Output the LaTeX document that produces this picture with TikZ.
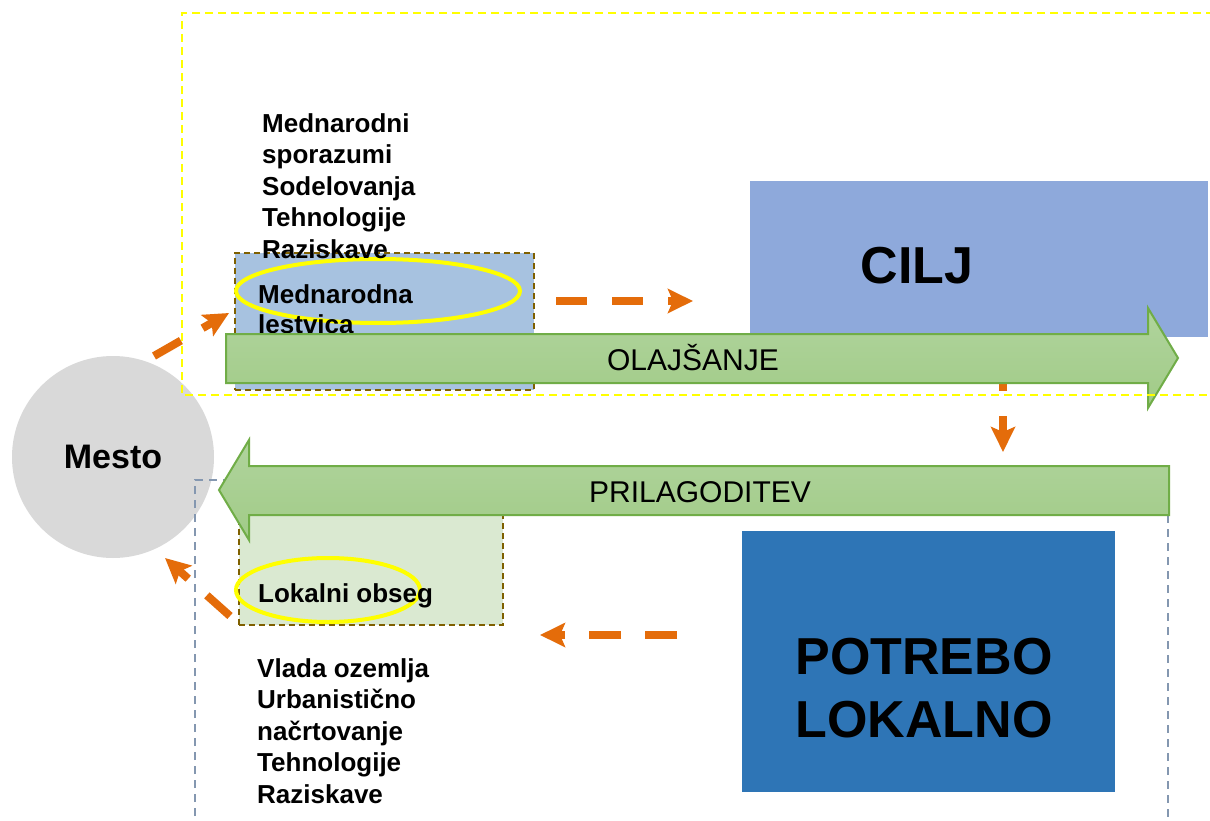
\documentclass[tikz,border=0pt]{standalone}
\usepackage{fontspec}
\setmainfont{Liberation Sans}
\usetikzlibrary{arrows.meta,shapes.geometric}
\definecolor{orng}{HTML}{E46C0A}
\definecolor{ylw}{HTML}{FFFF00}
\definecolor{medfill}{HTML}{A7C2E0}
\definecolor{lokfill}{HTML}{DAE9D1}
\definecolor{ciljfill}{HTML}{8EA9DB}
\definecolor{potfill}{HTML}{2E75B6}
\definecolor{grtop}{HTML}{B0D49D}
\definecolor{grbot}{HTML}{A1CB87}
\definecolor{grline}{HTML}{70AD47}
\definecolor{circfill}{HTML}{D9D9D9}
\definecolor{bluedash}{HTML}{8497B0}
\definecolor{brownish}{HTML}{7F6000}
\tikzset{
  dashbox/.style={draw=brownish, line width=1.5pt, dash pattern=on 6pt off 4pt, inner sep=0pt, anchor=north west},
  ring/.style={draw=ylw, line width=4pt, ellipse, inner sep=0pt},
  listtext/.style={font=\fontsize{26}{31.5}\selectfont\bfseries, align=left, inner sep=0pt, anchor=north west},
  boxtext/.style={font=\fontsize{26}{30}\selectfont\bfseries, align=left, inner sep=0pt, anchor=north west},
  bigtext/.style={font=\fontsize{52}{63}\selectfont\bfseries, align=center, inner sep=0pt},
  arrowtext/.style={font=\fontsize{30}{36}\selectfont, inner sep=0pt, anchor=base},
  bigarrow/.style={draw=grline, line width=2pt, top color=grtop, bottom color=grbot},
  orarrow/.style={draw=orng, line width=8pt, dash pattern=on 31pt off 25pt,
    -{Stealth[length=25pt, width=24pt, inset=5pt]}},
  ydash/.style={draw=ylw, line width=2pt, dash pattern=on 8pt off 5pt},
  bdash/.style={draw=bluedash, line width=1.5pt, dash pattern=on 8pt off 6pt},
}
\begin{document}
\begin{tikzpicture}[x=1pt,y=-1pt]
\useasboundingbox[fill=white] (0,0) rectangle (1210,821);

% city circle
\node[circle, fill=circfill, minimum size=202pt, inner sep=0pt,
      font=\fontsize{34}{40}\selectfont\bfseries] (mesto) at (113,457) {Mesto};

% international box
\node[dashbox, fill=medfill, minimum width=299pt, minimum height=137pt] (medbox) at (234,252) {};
\node[ring, minimum width=284pt, minimum height=64pt] (ring1) at (378,291) {};
\node[boxtext] (medtext) at (258,284.3) {Mednarodna\\lestvica};
\node[listtext] (toplist) at (262,113.3) {Mednarodni\\sporazumi\\Sodelovanja\\Tehnologije\\Raziskave};

% goal box
\node[fill=ciljfill, minimum width=458pt, minimum height=156pt, inner sep=0pt, anchor=north west] (cilj) at (750,181) {};
\node[bigtext] (ciljtext) at (917,265.5) {CILJ};

% vertical orange arrow (under the green arrow)
\coordinate (vstart) at (1003,360);
\coordinate (vend) at (1003,452);
\draw[orarrow] (vstart) -- (vend);

% OLAJSANJE arrow
\draw[bigarrow] (226,334) -- (1148,334) -- (1148,308) -- (1178,358) -- (1148,408) -- (1148,383) -- (226,383) -- cycle;
\node[arrowtext] (olaj) at (693,370) {OLAJŠANJE};

% yellow dashed frame
\draw[ydash] (1214,13) -- (182,13) -- (182,395) -- (1214,395);

% upper orange arrows
\coordinate (a1s) at (154,356);
\coordinate (a1e) at (229,313);
\draw[orarrow] (a1s) -- (a1e);
\coordinate (a2s) at (556,301);
\coordinate (a2e) at (693,301);
\draw[orarrow] (a2s) -- (a2e);

% local box
\node[dashbox, fill=lokfill, minimum width=264pt, minimum height=119pt] (lokbox) at (238,505) {};
\node[ring, minimum width=184pt, minimum height=64pt] (ring2) at (328,590) {};
\node[boxtext, anchor=base west] (loktext) at (258,602) {Lokalni obseg};

% blue dashed frame
\draw[bdash] (195,830) -- (195,480) -- (1168,480) -- (1168,830);

% PRILAGODITEV arrow
\draw[bigarrow] (1169,466) -- (249,466) -- (249,440) -- (219,490) -- (249,540) -- (249,515) -- (1169,515) -- cycle;
\node[arrowtext] (pril) at (700,502) {PRILAGODITEV};

% local need box
\node[fill=potfill, minimum width=373pt, minimum height=261pt, inner sep=0pt, anchor=north west] (potbox) at (742,531) {};
\node[bigtext] (pottext) at (924,688) {POTREBO\\LOKALNO};

% lower list
\node[listtext] (botlist) at (257,658.3) {Vlada ozemlja\\Urbanistično\\načrtovanje\\Tehnologije\\Raziskave};

% lower orange arrows
\coordinate (a3s) at (677,635);
\coordinate (a3e) at (540,635);
\draw[orarrow, dash pattern=on 32pt off 24pt] (a3s) -- (a3e);
\coordinate (a4s) at (230,616);
\coordinate (a4e) at (165,558);
\draw[orarrow] (a4s) -- (a4e);
\end{tikzpicture}
\end{document}
